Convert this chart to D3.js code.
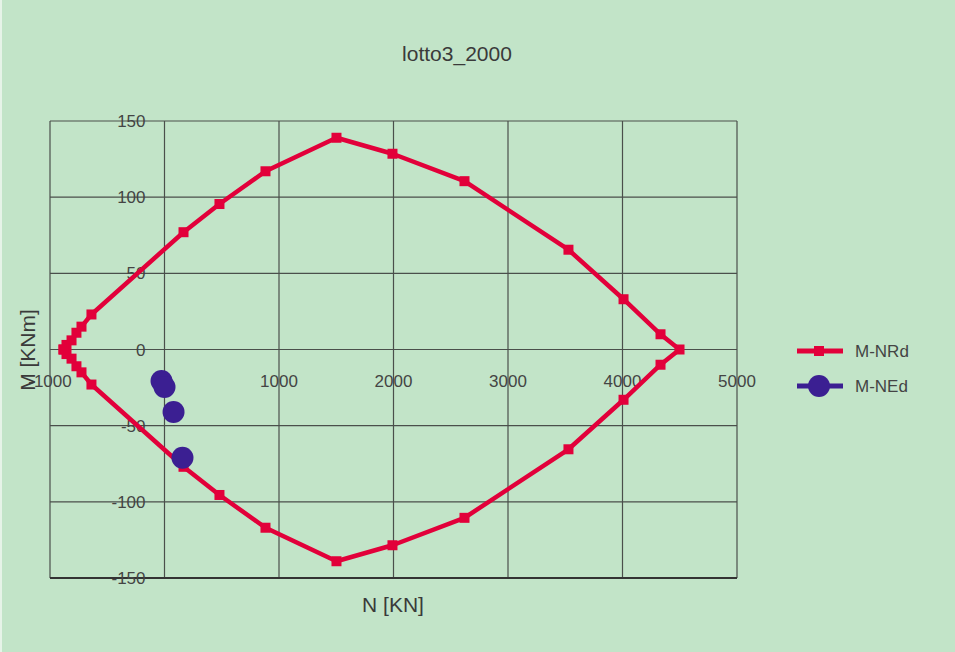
<!DOCTYPE html>
<html>
<head>
<meta charset="utf-8">
<script src="https://cdn.jsdelivr.net/npm/d3@7"></script>
<style>
  html, body { margin: 0; padding: 0; background: #c2e4c8; }
  svg { display: block; font-family: "Liberation Sans", Arial, sans-serif; }
</style>
</head>
<body>
<svg id="chart" width="955" height="652"></svg>
<script>
// Resisting domain M-NRd (closed interaction curve), N in kN, M in kNm
const nrdN = [-882, -856, -812, -769, -725, -638, 166, 480, 882, 1502, 1991, 2620, 3528, 4009, 4332, 4498,
              4332, 4009, 3528, 2620, 1991, 1502, 882, 480, 166, -638, -725, -769, -812, -856, -882];
const nrdM = [0, 3, 6, 11, 15, 23, 77, 95.5, 117, 139, 128.5, 110.5, 65.5, 33, 10, 0,
              -10, -33, -65.5, -110.5, -128.5, -139, -117, -95.5, -77, -23, -15, -11, -6, -3, 0];
// Design actions M-NEd
const nedN = [-26, 0, 79, 157];
const nedM = [-20.7, -24.6, -41, -71];

const xTicks = [-1000, 0, 1000, 2000, 3000, 4000, 5000];
const yTicks = [-150, -100, -50, 0, 50, 100, 150];
const seriesNames = ["M-NRd", "M-NEd"];
const chartTitle = "lotto3_2000";

const svg = d3.select("#chart");
const W = 955, H = 652;
const plot = { left: 50, right: 737, top: 121, bottom: 578 };

svg.append("rect").attr("width", W).attr("height", H).attr("fill", "#c2e4c8");
svg.append("rect").attr("x", 0).attr("y", 0).attr("width", 2).attr("height", H).attr("fill", "#e6f3e8");

const x = d3.scaleLinear().domain([-1000, 5000]).range([plot.left, plot.right]);
const y = d3.scaleLinear().domain([-150, 150]).range([plot.bottom, plot.top]);

const gridColor = "#4a4f4b";

// grid
const grid = svg.append("g");
grid.selectAll("line.v").data(xTicks).join("line")
  .attr("x1", d => x(d)).attr("x2", d => x(d))
  .attr("y1", plot.top).attr("y2", plot.bottom)
  .attr("stroke", gridColor).attr("stroke-width", 1.2);
grid.selectAll("line.h").data(yTicks).join("line")
  .attr("x1", plot.left).attr("x2", plot.right)
  .attr("y1", d => y(d)).attr("y2", d => y(d))
  .attr("stroke", gridColor).attr("stroke-width", 1.2);
// heavier bottom border
svg.append("line").attr("x1", plot.left).attr("x2", plot.right)
  .attr("y1", plot.bottom).attr("y2", plot.bottom)
  .attr("stroke", "#333").attr("stroke-width", 2);

// Tick labels sit on the axes crossing at the origin
const labelColor = "#444";
svg.append("g").selectAll("text").data(yTicks).join("text")
  .attr("x", x(0) - 19).attr("y", d => y(d) + 6)
  .attr("text-anchor", "end").attr("font-size", 17).attr("fill", labelColor)
  .text(d => d);
svg.append("g").selectAll("text").data(xTicks).join("text")
  .attr("x", d => x(d)).attr("y", y(0) + 37)
  .attr("text-anchor", "middle").attr("font-size", 17).attr("fill", labelColor)
  .text(d => d);

// title and axis names
svg.append("text").attr("x", 457).attr("y", 61).attr("text-anchor", "middle")
  .attr("font-size", 21).attr("fill", "#3a3a3a").text(chartTitle);
svg.append("text").attr("x", 393).attr("y", 612).attr("text-anchor", "middle")
  .attr("font-size", 21).attr("fill", "#3a3a3a").text("N [KN]");
svg.append("text").attr("transform", `translate(35,350) rotate(-90)`)
  .attr("text-anchor", "middle").attr("font-size", 21).attr("fill", "#3a3a3a").text("M [KNm]");

const red = "#e2003a", blue = "#3b1f92";

// M-NRd curve
const nrd = nrdN.map((n, i) => [n, nrdM[i]]);
svg.append("path").datum(nrd)
  .attr("d", d3.line().x(d => x(d[0])).y(d => y(d[1])))
  .attr("fill", "none").attr("stroke", red).attr("stroke-width", 4.5)
  .attr("stroke-linejoin", "round");
svg.append("g").selectAll("rect").data(nrd).join("rect")
  .attr("x", d => x(d[0]) - 5).attr("y", d => y(d[1]) - 5)
  .attr("width", 10).attr("height", 10).attr("fill", red);

// M-NEd points
const ned = nedN.map((n, i) => [n, nedM[i]]);
svg.append("g").selectAll("circle").data(ned).join("circle")
  .attr("cx", d => x(d[0])).attr("cy", d => y(d[1])).attr("r", 11)
  .attr("fill", blue);

// legend
const lg = svg.append("g");
const legendRows = [
  { name: seriesNames[0], color: red, y: 351, marker: "square" },
  { name: seriesNames[1], color: blue, y: 386, marker: "circle" }
];
legendRows.forEach(r => {
  lg.append("line").attr("x1", 797).attr("x2", 843).attr("y1", r.y).attr("y2", r.y)
    .attr("stroke", r.color).attr("stroke-width", 5);
  if (r.marker === "square") {
    lg.append("rect").attr("x", 814).attr("y", r.y - 5).attr("width", 10).attr("height", 10).attr("fill", r.color);
  } else {
    lg.append("circle").attr("cx", 819).attr("cy", r.y).attr("r", 11).attr("fill", r.color);
  }
  lg.append("text").attr("x", 855).attr("y", r.y + 6).attr("font-size", 17)
    .attr("fill", labelColor).text(r.name);
});
</script>
</body>
</html>
